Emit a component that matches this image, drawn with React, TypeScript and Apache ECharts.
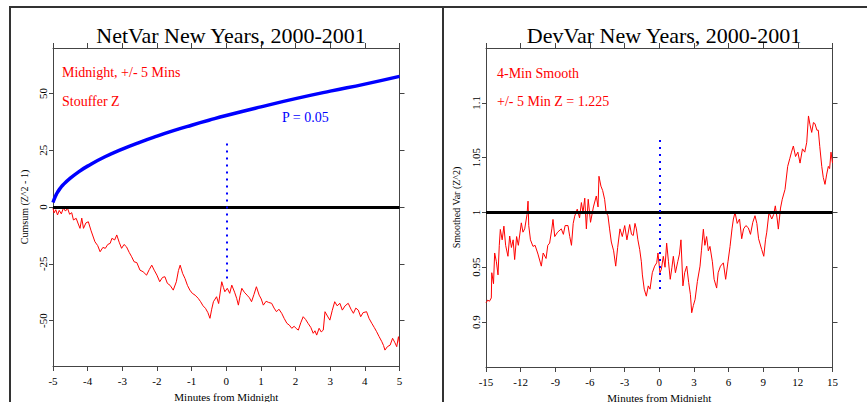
import React, { useEffect, useRef } from "react";
import * as echarts from "echarts";

// ---------- Data ----------
const leftTitle = "NetVar New Years, 2000-2001";
const rightTitle = "DevVar New Years, 2000-2001";
const xAxisName = "Minutes from Midnight";
const leftYName = "Cumsum (Z^2 - 1)";
const rightYName = "Smoothed Var (Z^2)";
const leftNotes = ["Midnight, +/- 5 Mins", "Stouffer Z"];
const leftBlueNote = "P = 0.05";
const rightNotes = ["4-Min Smooth", "+/- 5 Min Z = 1.225"];

const leftYTicks = [-50, -25, 0, 25, 50];
const rightYTicks = [0.9, 0.95, 1, 1.05, 1.1];

// cumulative deviation (minutes, value)
const netVarMinutes = [
  -5.0, -4.97, -4.92, -4.87, -4.82, -4.76, -4.7, -4.64, -4.58, -4.52, -4.46, -4.41, -4.33, -4.27, -4.22, -4.17, -4.12, -4.05, -3.98, -3.9,
  -3.79, -3.71, -3.64, -3.56, -3.49, -3.42, -3.35, -3.3, -3.22, -3.16, -3.09, -3.02, -2.95, -2.88, -2.8, -2.73, -2.66, -2.58, -2.49, -2.4,
  -2.3, -2.22, -2.15, -2.08, -2.0, -1.92, -1.84, -1.77, -1.7, -1.62, -1.53, -1.44, -1.38, -1.33, -1.26, -1.19, -1.12, -1.05, -0.98, -0.9,
  -0.81, -0.74, -0.67, -0.6, -0.53, -0.47, -0.42, -0.37, -0.28, -0.22, -0.13, -0.08, -0.04, 0.03, 0.1, 0.16, 0.24, 0.3, 0.35, 0.4,
  0.45, 0.52, 0.6, 0.67, 0.73, 0.8, 0.87, 0.95, 1.01, 1.07, 1.15, 1.22, 1.31, 1.38, 1.45, 1.52, 1.6, 1.67, 1.75, 1.82,
  1.89, 1.96, 2.02, 2.08, 2.15, 2.22, 2.29, 2.36, 2.44, 2.51, 2.56, 2.61, 2.68, 2.74, 2.8, 2.85, 2.92, 2.99, 3.06, 3.13,
  3.2, 3.28, 3.35, 3.43, 3.52, 3.6, 3.67, 3.74, 3.81, 3.88, 3.95, 4.05, 4.12, 4.2, 4.27, 4.34, 4.41, 4.49, 4.54, 4.58,
  4.65, 4.73, 4.8, 4.86, 4.92, 4.97, 5.0,
];
const netVarValues = [
  -0.5, -2.6, -1.2, -3.5, -1.5, -3.0, -0.5, -1.8, -0.6, -3.2, -2.5, -5.7, -5.0, -7.5, -9.4, -4.9, -9.4, -7.0, -6.5, -10.5,
  -15.3, -17.0, -19.7, -17.8, -18.2, -16.5, -16.0, -13.8, -14.5, -12.3, -15.5, -18.2, -16.5, -17.5, -20.0, -21.9, -24.1, -24.5, -27.8, -28.5,
  -30.0, -27.5, -25.6, -27.8, -30.0, -32.9, -31.0, -30.7, -33.6, -34.5, -36.6, -32.9, -28.0, -25.6, -29.2, -31.5, -34.5, -36.6, -38.0, -38.8,
  -40.2, -41.7, -43.5, -44.6, -46.5, -49.0, -45.0, -41.7, -39.5, -42.5, -32.9, -35.5, -37.3, -35.8, -38.0, -34.4, -37.5, -40.2, -43.2, -39.0,
  -35.8, -37.5, -38.8, -40.0, -41.7, -38.5, -35.1, -38.8, -40.5, -43.2, -41.5, -42.0, -42.4, -44.5, -46.1, -45.0, -46.8, -49.0, -51.2, -52.0,
  -53.4, -52.5, -53.5, -54.2, -51.0, -48.3, -49.5, -51.2, -53.0, -55.6, -54.5, -56.4, -53.4, -55.0, -54.2, -46.1, -48.0, -49.8, -45.5, -41.7,
  -43.5, -42.4, -45.4, -43.5, -42.4, -45.0, -46.8, -44.5, -45.4, -48.3, -46.5, -46.1, -49.0, -51.2, -53.0, -54.9, -57.0, -59.3, -61.0, -63.0,
  -61.5, -60.8, -57.8, -59.5, -61.5, -57.1, -60.0,
];

// P = 0.05 envelope
const envelopeMinutes = [-5, -4.95, -4.9, -4.8, -4.7, -4.5, -4.25, -4, -3.5, -3, -2.5, -2, -1.5, -1, -0.5, 0, 1, 2, 3, 4, 5];
const envelopeValues = [2, 4.0, 5.7, 8.1, 9.9, 12.7, 15.6, 18.0, 22.1, 25.5, 28.5, 31.2, 33.7, 36.0, 38.2, 40.3, 44.1, 47.7, 51.0, 54.1, 57.5];

// midnight marker extents
const leftMarkerRange = [28, -33];
const rightMarkerRange = [1.066, 0.929];

// smoothed variance (minutes, value)
const devVarMinutes = [
  -15, -14.85, -14.7, -14.54, -14.5, -14.35, -14.25, -14.1, -13.96, -13.85, -13.76, -13.6, -13.45, -13.3, -13.1, -12.95, -12.8, -12.65, -12.52, -12.35,
  -12.2, -11.94, -11.8, -11.65, -11.45, -11.36, -11.3, -11.15, -10.93, -10.75, -10.5, -10.21, -10.05, -9.8, -9.65, -9.49, -9.3, -9.2, -9.05, -8.8,
  -8.48, -8.3, -8.15, -7.9, -7.75, -7.6, -7.45, -7.32, -7.1, -6.9, -6.74, -6.6, -6.45, -6.31, -6.15, -5.95, -5.7, -5.45, -5.3, -5.22,
  -5.05, -4.9, -4.73, -4.6, -4.44, -4.3, -4.15, -3.95, -3.77, -3.6, -3.4, -3.2, -2.99, -2.8, -2.56, -2.4, -2.25, -2.1, -1.98, -1.85,
  -1.69, -1.55, -1.46, -1.3, -1.12, -0.95, -0.8, -0.6, -0.4, -0.22, -0.11, 0.06, 0.18, 0.35, 0.5, 0.64, 0.8, 0.95, 1.1, 1.22,
  1.4, 1.6, 1.75, 1.88, 2.05, 2.2, 2.38, 2.55, 2.7, 2.81, 2.95, 3.1, 3.3, 3.53, 3.65, 3.82, 3.95, 4.1, 4.25, 4.39,
  4.6, 4.75, 4.97, 5.1, 5.3, 5.55, 5.75, 5.95, 6.13, 6.3, 6.42, 6.56, 6.75, 6.95, 7.14, 7.3, 7.5, 7.71, 7.9, 8.1,
  8.29, 8.45, 8.6, 8.87, 9.05, 9.2, 9.31, 9.5, 9.74, 9.9, 10.05, 10.2, 10.31, 10.5, 10.65, 10.89, 11.12, 11.3, 11.45, 11.61,
  11.8, 12.0, 12.19, 12.4, 12.6, 12.77, 12.92, 13.05, 13.2, 13.35, 13.48, 13.65, 13.77, 13.9, 14.07, 14.2, 14.35, 14.5, 14.64, 14.75,
  14.87, 15.0,
];
const devVarValues = [
  0.9175, 0.92, 0.919, 0.922, 0.945, 0.935, 0.963, 0.955, 0.943, 0.97, 0.9845, 0.975, 0.9875, 0.97, 0.96, 0.9785, 0.968, 0.975, 0.957, 0.978,
  0.97, 0.9905, 0.982, 0.985, 0.998, 1.0103, 0.988, 0.975, 0.969, 0.97, 0.962, 0.951, 0.963, 0.958, 0.97, 0.972, 0.985, 0.9936, 0.978, 0.982,
  0.985, 0.98, 0.988, 0.988, 0.978, 0.97, 0.99, 0.9966, 1.003, 0.995, 1.009, 1.0, 1.013, 0.985, 1.012, 0.991, 1.005, 1.015, 1.005, 1.033,
  1.024, 1.02, 1.012, 1.0, 0.997, 0.985, 0.973, 0.965, 0.951, 0.968, 0.985, 0.978, 0.988, 0.975, 0.989, 0.98, 0.979, 0.99, 0.985, 0.975,
  0.966, 0.955, 0.943, 0.93, 0.9236, 0.933, 0.93, 0.945, 0.951, 0.954, 0.963, 0.945, 0.948, 0.96, 0.95, 0.972, 0.955, 0.939, 0.95, 0.96,
  0.945, 0.955, 0.962, 0.975, 0.933, 0.945, 0.951, 0.936, 0.925, 0.9085, 0.915, 0.9205, 0.937, 0.951, 0.965, 0.9847, 0.97, 0.978, 0.965, 0.969,
  0.955, 0.939, 0.931, 0.945, 0.951, 0.954, 0.939, 0.955, 0.969, 0.985, 0.994, 1.0, 0.99, 0.994, 0.976, 0.985, 0.988, 0.986, 0.98, 0.991,
  0.997, 0.99, 0.976, 0.9662, 0.96, 0.975, 0.982, 1.0, 0.994, 0.998, 1.006, 0.995, 0.9848, 1.004, 1.012, 1.021, 1.042, 1.049, 1.055, 1.0606,
  1.051, 1.055, 1.045, 1.058, 1.055, 1.064, 1.088, 1.08, 1.073, 1.082, 1.081, 1.075, 1.075, 1.06, 1.042, 1.032, 1.0256, 1.035, 1.042, 1.04,
  1.055, 1.045,
];

// ---------- Component ----------
const SERIF = "'Liberation Serif', 'Times New Roman', serif";
const AXIS_COLOR = "#444";

function pairs(xs: number[], ys: number[]) {
  return xs.map((x, i) => [x, ys[i]]);
}

export default function App() {
  const ref = useRef<HTMLDivElement>(null);

  useEffect(() => {
    if (!ref.current) return;
    const chart = echarts.init(ref.current, null, { renderer: "svg" });

    const axisLine = { show: true, onZero: false, lineStyle: { color: AXIS_COLOR, width: 1 } };
    const tickStyle = { show: true, length: 5, lineStyle: { color: AXIS_COLOR, width: 1 } };
    const labelStyle = { color: "#000", fontFamily: SERIF, fontSize: 11 };

    const xBottom = (grid: number, min: number, max: number, interval: number) => ({
      type: "value",
      gridIndex: grid,
      position: "bottom",
      min,
      max,
      interval,
      axisLine,
      axisTick: tickStyle,
      axisLabel: { ...labelStyle, margin: 9 },
      splitLine: { show: false },
      name: xAxisName,
      nameLocation: "middle",
      nameGap: 25,
      nameTextStyle: { color: "#000", fontFamily: SERIF, fontSize: 11 },
    });
    const xTop = (grid: number, min: number, max: number, interval: number) => ({
      type: "value",
      gridIndex: grid,
      position: "top",
      min,
      max,
      interval,
      axisLine,
      axisTick: tickStyle,
      axisLabel: { show: false },
      splitLine: { show: false },
    });
    const yLeft = (grid: number, min: number, max: number, ticks: number[], name: string, nameGap: number) => ({
      type: "value",
      gridIndex: grid,
      position: "left",
      min,
      max,
      axisLine,
      axisTick: { ...tickStyle, length: 4, customValues: ticks },
      axisLabel: { ...labelStyle, rotate: 90, margin: 5, customValues: ticks },
      splitLine: { show: false },
      name,
      nameLocation: "middle",
      nameGap,
      nameRotate: 90,
      nameTextStyle: { color: "#000", fontFamily: SERIF, fontSize: 10 },
    });
    const yRight = (grid: number, min: number, max: number, ticks: number[]) => ({
      type: "value",
      gridIndex: grid,
      position: "right",
      min,
      max,
      axisLine,
      axisTick: { ...tickStyle, length: 5, customValues: ticks },
      axisLabel: { show: false, customValues: ticks },
      splitLine: { show: false },
    });

    const zeroLine = (y: number) => ({
      silent: true,
      symbol: "none",
      label: { show: false },
      lineStyle: { color: "#000", width: 3, type: "solid" },
      data: [{ yAxis: y }],
    });

    const noteText = (x: number, y: number, text: string, color: string) => ({
      type: "text",
      x,
      y,
      style: { text, fill: color, font: `14px ${SERIF}`, textVerticalAlign: "middle" },
      silent: true,
    });

    const titleStyle = { fontFamily: SERIF, fontSize: 22, fontWeight: "normal", color: "#000" };

    chart.setOption({
      animation: false,
      backgroundColor: "#fff",
      title: [
        { text: leftTitle, left: 226, top: 19, textAlign: "center", textStyle: titleStyle },
        { text: rightTitle, left: 659, top: 19, textAlign: "center", textStyle: titleStyle },
      ],
      grid: [
        { left: 53, top: 48, width: 346.5, height: 318, containLabel: false, outerBoundsMode: "none" },
        { left: 486, top: 48, width: 346.5, height: 319, containLabel: false, outerBoundsMode: "none" },
      ],
      xAxis: [xBottom(0, -5, 5, 1), xTop(0, -5, 5, 1), xBottom(1, -15, 15, 3), xTop(1, -15, 15, 3)],
      yAxis: [
        yLeft(0, -70, 70, leftYTicks, leftYName, 24),
        yRight(0, -70, 70, leftYTicks),
        yLeft(1, 0.859, 1.15, rightYTicks, rightYName, 25),
        yRight(1, 0.859, 1.15, rightYTicks),
      ],
      series: [
        {
          type: "line",
          xAxisIndex: 0,
          yAxisIndex: 0,
          data: pairs(envelopeMinutes, envelopeValues),
          smooth: true,
          showSymbol: false,
          lineStyle: { color: "#0000ff", width: 3.5 },
          z: 3,
        },
        {
          type: "line",
          xAxisIndex: 0,
          yAxisIndex: 0,
          data: pairs(netVarMinutes, netVarValues),
          showSymbol: false,
          lineStyle: { color: "#ff0000", width: 1 },
          markLine: zeroLine(0),
          z: 2,
        },
        {
          type: "line",
          xAxisIndex: 0,
          yAxisIndex: 0,
          data: [],
          markLine: {
            silent: true,
            symbol: "none",
            label: { show: false },
            lineStyle: { color: "#0000ff", width: 2, type: [2, 5] },
            data: [[{ coord: [0, leftMarkerRange[0]] }, { coord: [0, leftMarkerRange[1]] }]],
          },
        },
        {
          type: "line",
          xAxisIndex: 2,
          yAxisIndex: 2,
          data: pairs(devVarMinutes, devVarValues),
          showSymbol: false,
          lineStyle: { color: "#ff0000", width: 1 },
          markLine: zeroLine(1),
          z: 2,
        },
        {
          type: "line",
          xAxisIndex: 2,
          yAxisIndex: 2,
          data: [],
          markLine: {
            silent: true,
            symbol: "none",
            label: { show: false },
            lineStyle: { color: "#0000ff", width: 2, type: [2, 5] },
            data: [[{ coord: [0, rightMarkerRange[0]] }, { coord: [0, rightMarkerRange[1]] }]],
          },
        },
      ],
      graphic: [
        {
          type: "rect",
          shape: { x: 10, y: 7, width: 433, height: 420 },
          style: { fill: "none", stroke: "#333", lineWidth: 2 },
          silent: true,
        },
        {
          type: "rect",
          shape: { x: 443, y: 7, width: 440, height: 420 },
          style: { fill: "none", stroke: "#333", lineWidth: 2 },
          silent: true,
        },
        noteText(62, 72, leftNotes[0], "#ff0000"),
        noteText(62, 101, leftNotes[1], "#ff0000"),
        noteText(282, 117, leftBlueNote, "#0000ff"),
        noteText(497, 73, rightNotes[0], "#ff0000"),
        noteText(497, 101, rightNotes[1], "#ff0000"),
      ],
    });

    return () => chart.dispose();
  }, []);

  return (
    <div
      ref={ref}
      style={{ position: "fixed", left: 0, top: 0, width: 867, height: 402, background: "#fff" }}
    />
  );
}
